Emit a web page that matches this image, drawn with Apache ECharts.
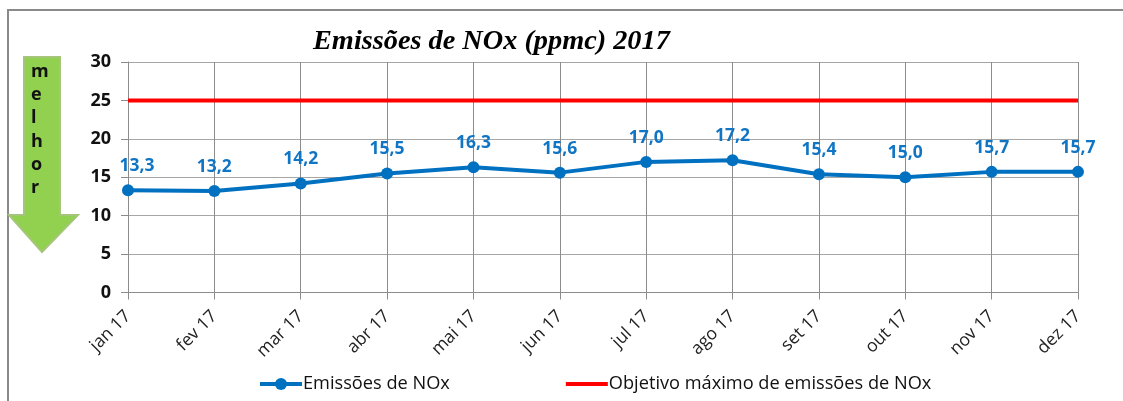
<!DOCTYPE html>
<html><head><meta charset="utf-8">
<style>html,body{margin:0;padding:0;background:#fff}#c{width:1123px;height:401px}</style>
<script src="https://cdn.jsdelivr.net/npm/echarts@6/dist/echarts.min.js"></script>
</head><body><div id="c"></div>
<script>
const categories=['jan 17','fev 17','mar 17','abr 17','mai 17','jun 17','jul 17','ago 17','set 17','out 17','nov 17','dez 17'];
const emissions=[13.3,13.2,14.2,15.5,16.3,15.6,17.0,17.2,15.4,15.0,15.7,15.7];
const objective=[25,25,25,25,25,25,25,25,25,25,25,25];
const yTicks={min:0,max:30,interval:5};
const arrowLetters=['m','e','l','h','o','r'];
const F='"Open Sans","Noto Sans",sans-serif';
const chart=echarts.init(document.getElementById('c'),null,{renderer:'canvas'});
chart.setOption({
 animation:false,
 title:{text:'Emissões de NOx (ppmc) 2017',left:313,top:28,padding:0,
  textStyle:{fontFamily:'"Liberation Serif",serif',fontStyle:'italic',fontWeight:'bold',fontSize:28.3,color:'#000'}},
 grid:{left:128,right:45,top:62,bottom:108.5},
 legend:{show:true,left:258,top:375,padding:0,itemGap:114,itemWidth:42,itemHeight:15,
  textStyle:{fontFamily:F,fontSize:18.2,color:'#111',padding:[0,0,0,-4]},
  data:[{name:'Emissões de NOx',lineStyle:{width:4}},
        {name:'Objetivo máximo de emissões de NOx',lineStyle:{width:4},itemStyle:{color:'transparent'}}]},
 xAxis:{type:'category',boundaryGap:false,data:categories,
  axisLine:{onZero:true,lineStyle:{color:'#8c8c8c',width:1}},
  axisTick:{show:true,length:7,alignWithLabel:true,lineStyle:{color:'#8c8c8c'}},
  splitLine:{show:true,lineStyle:{color:'#8c8c8c',width:1}},
  axisLabel:{rotate:45,fontFamily:F,fontSize:17.5,color:'#222',margin:21,interval:0,align:'right',verticalAlign:'middle'}},
 yAxis:{type:'value',min:yTicks.min,max:yTicks.max,interval:yTicks.interval,
  axisLine:{show:true,lineStyle:{color:'#8c8c8c',width:1}},
  axisTick:{show:true,length:7,lineStyle:{color:'#8c8c8c'}},
  splitLine:{show:true,lineStyle:{color:'#a6a6a6',width:1}},
  axisLabel:{fontFamily:F,fontWeight:'bold',fontSize:18,color:'#111',margin:17}},
 series:[
  {name:'Emissões de NOx',type:'line',data:emissions.map((v,i)=>i===0?{value:v,label:{offset:[9,0]}}:v),symbol:'circle',symbolSize:12,z:3,
   lineStyle:{color:'#0070c0',width:4},itemStyle:{color:'#0070c0'},
   label:{show:true,position:'top',distance:9,fontFamily:F,fontWeight:'bold',fontSize:17.5,color:'#0f75c4',
    formatter:p=>p.value.toFixed(1).replace('.',',')}},
  {name:'Objetivo máximo de emissões de NOx',type:'line',data:objective,symbol:'none',z:2,
   lineStyle:{color:'#ff0000',width:4},itemStyle:{color:'#ff0000'}}
 ],
 graphic:[
  {type:'rect',shape:{x:8,y:10,width:1125,height:400},style:{fill:'none',stroke:'#8a8a8a',lineWidth:2},silent:true,z:-1},
  {type:'polygon',shape:{points:[[24,57],[60,57],[60,215],[78,215],[42,252],[9,215],[24,215]]},
   style:{fill:'#92d050',stroke:'#a5c67a',lineWidth:2},silent:true,z:5},
  {type:'text',left:31,top:60,silent:true,z:6,
   style:{text:arrowLetters.join('\n'),fontFamily:F,fontWeight:'bold',fontSize:18,lineHeight:23.3,align:'center',width:16,fill:'#111'}}
 ]
});
</script></body></html>
